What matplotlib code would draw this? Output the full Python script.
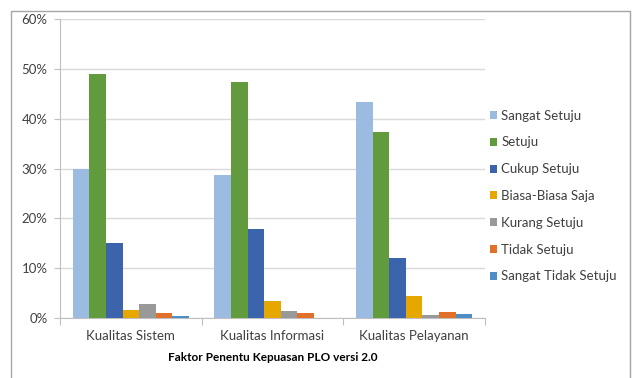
import matplotlib
matplotlib.use("Agg")
import matplotlib.pyplot as plt
from matplotlib.patches import Rectangle
import numpy as np

plt.rcParams['font.family'] = ['Lato', 'DejaVu Sans']

categories = ["Kualitas Sistem", "Kualitas Informasi", "Kualitas Pelayanan"]
series_names = ["Sangat Setuju", "Setuju", "Cukup Setuju", "Biasa-Biasa Saja",
                "Kurang Setuju", "Tidak Setuju", "Sangat Tidak Setuju"]
sangat_setuju = [30.0, 28.7, 43.3]
setuju = [48.9, 47.3, 37.3]
cukup_setuju = [15.0, 17.9, 12.0]
biasa_saja = [1.7, 3.5, 4.4]
kurang_setuju = [2.9, 1.5, 0.7]
tidak_setuju = [1.1, 1.0, 1.3]
sangat_tidak_setuju = [0.5, 0.0, 0.9]
y_ticks = [0, 10, 20, 30, 40, 50, 60]
x_title = "Faktor Penentu Kepuasan PLO versi 2.0"

series_values = [sangat_setuju, setuju, cukup_setuju, biasa_saja,
                 kurang_setuju, tidak_setuju, sangat_tidak_setuju]
colors = ["#9BBBE0", "#629B3E", "#3B64AD", "#E6A800",
          "#999999", "#E0702A", "#4E8DC8"]

fig = plt.figure(figsize=(6.32, 3.78), dpi=100)
ax = fig.add_axes([60/632, 1 - 318/378, 425/632, 299/378])

x = np.arange(len(categories))
w = 0.117
for i, (name, vals, c) in enumerate(zip(series_names, series_values, colors)):
    ax.bar(x + (i - 3) * w, vals, width=w, color=c, label=name, zorder=3)

ax.set_xlim(-0.5, 2.5)
ax.set_ylim(0, 60)
ax.set_yticks(y_ticks)
ax.set_yticklabels([f"{t}%" for t in y_ticks], fontsize=9.5, color="#404040")
ax.set_xticks(x)
ax.set_xticklabels(categories, fontsize=9.5, color="#404040")
ax.set_xticks([-0.5, 0.5, 1.5, 2.5], minor=True)
ax.tick_params(axis='x', which='major', length=0, pad=9)
ax.tick_params(axis='x', which='minor', length=5, color="#BFBFBF", width=0.8)
ax.tick_params(axis='y', length=4, color="#BFBFBF", width=0.8, pad=5)

ax.grid(axis='y', color="#D9D9D9", linewidth=1.0, zorder=0)
for s in ["top", "right"]:
    ax.spines[s].set_visible(False)
for s in ["left", "bottom"]:
    ax.spines[s].set_color("#BFBFBF")
    ax.spines[s].set_linewidth(0.8)

ax.set_xlabel(x_title, fontsize=8.5, fontweight='bold', labelpad=7, color="#000000")

leg = fig.legend(*ax.get_legend_handles_labels(), loc='center left',
                 bbox_to_anchor=(490/632, 1 - 196/378),
                 bbox_transform=fig.transFigure, frameon=False,
                 fontsize=9.5, handlelength=0.55, handleheight=0.55,
                 handletextpad=0.3, labelspacing=1.12, borderaxespad=0,
                 borderpad=0)
for t in leg.get_texts():
    t.set_color("#404040")

fig.patches.append(Rectangle((11/632, -0.05), (630 - 11)/632, 1.05 - 11/378,
                             transform=fig.transFigure, fill=False,
                             edgecolor="#A6A6A6", linewidth=1.0))

fig.savefig("out.png", dpi=100)
